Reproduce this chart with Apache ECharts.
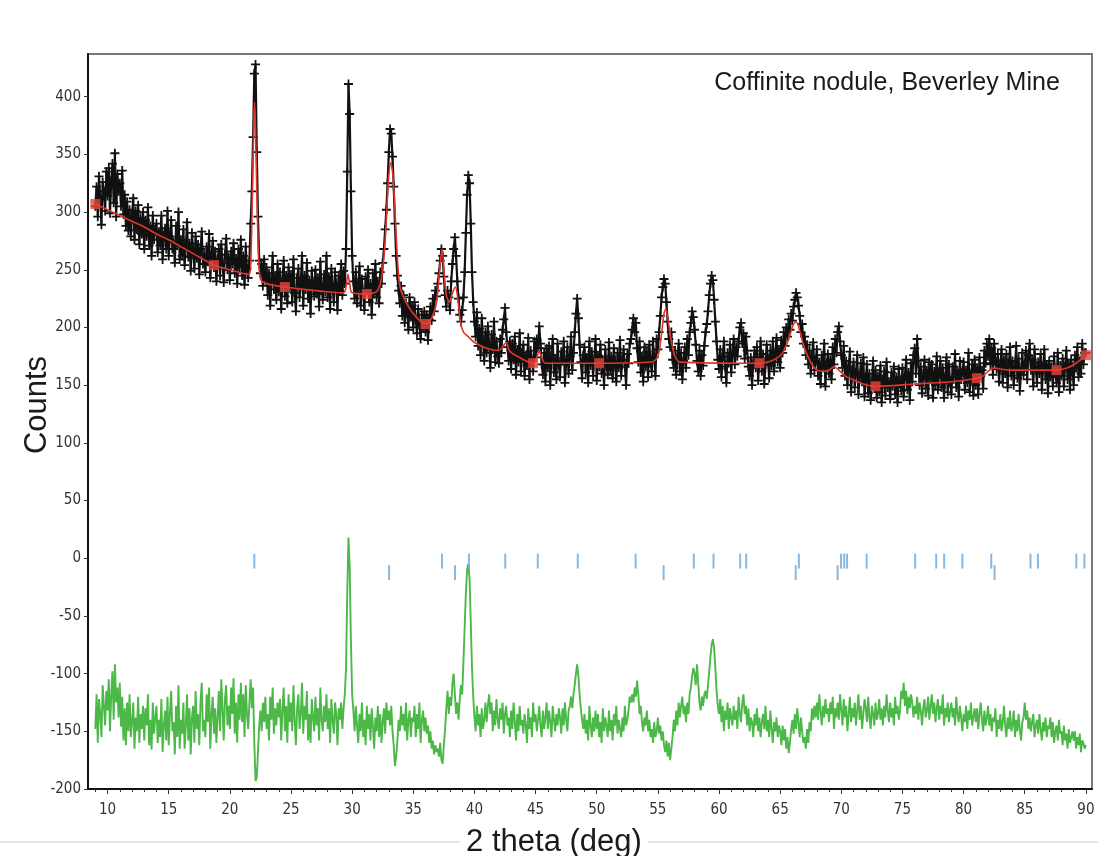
<!DOCTYPE html>
<html>
<head>
<meta charset="utf-8">
<script src="https://cdn.jsdelivr.net/npm/echarts@6/dist/echarts.min.js"></script>
<style>
html,body{margin:0;padding:0;background:#fff;}
#chart{width:1098px;height:856px;}
</style>
</head>
<body>
<div id="chart"></div>
<script>
// 2-theta sampling grid of the measured pattern
const THETA_START = 9.0;
const THETA_STEP = 0.1;

// Observed counts (black +), one row per degree (x.0 ... x.9)
const observedCounts = [
/*9*/ 305,322,296,331,312,289,326,318,301,335,
/*10*/ 314,338,299,327,342,308,351,296,333,318,
/*11*/ 325,305,336,298,315,288,309,284,302,279,
/*12*/ 297,312,276,301,285,306,272,295,281,300,
/*13*/ 268,293,279,304,271,288,262,297,276,284,
/*14*/ 290,265,283,271,297,259,280,286,268,301,
/*15*/ 262,279,293,268,274,256,288,271,300,259,
/*16*/ 276,262,285,254,270,291,261,273,249,282,
/*17*/ 266,251,279,260,272,246,268,283,255,263,
/*18*/ 248,270,257,281,243,262,275,252,266,240,
/*19*/ 259,268,245,272,256,239,263,277,250,261,
/*20*/ 241,266,255,273,247,260,238,268,252,276,
/*21*/ 245,262,237,270,251,243,258,290,318,365,
/*22*/ 420,428,352,296,258,247,255,236,259,241,
/*23*/ 252,228,247,219,241,262,233,245,224,255,
/*24*/ 231,248,216,240,258,227,245,221,252,234,
/*25*/ 246,222,259,230,214,243,251,226,238,262,
/*26*/ 219,245,233,256,225,241,212,249,236,227,
/*27*/ 250,229,243,218,257,234,224,246,231,262,
/*28*/ 226,244,216,251,235,222,248,238,215,245,
/*29*/ 232,255,228,249,238,268,335,411,385,318,
/*30*/ 262,240,225,248,221,236,253,219,242,230,
/*31*/ 215,244,232,250,222,238,211,247,229,255,
/*32*/ 226,240,221,248,238,256,268,285,302,325,
/*33*/ 352,372,368,348,322,290,262,245,232,221,
/*34*/ 236,210,228,204,221,215,198,226,209,219,
/*35*/ 200,222,207,195,216,203,190,211,199,214,
/*36*/ 196,211,189,207,218,206,225,214,232,227,
/*37*/ 238,247,258,268,262,244,228,218,232,226,
/*38*/ 215,240,255,268,278,262,240,225,211,205,
/*39*/ 215,226,248,282,315,332,325,290,248,222,
/*40*/ 205,192,213,184,199,176,208,189,171,196,
/*41*/ 178,201,186,165,194,181,205,170,188,175,
/*42*/ 169,190,178,198,207,217,196,183,171,188,
/*43*/ 164,186,172,192,159,181,170,195,162,178,
/*44*/ 185,158,176,167,191,155,180,171,162,188,
/*45*/ 174,190,182,201,186,168,159,178,153,182,
/*46*/ 165,184,150,176,190,161,173,155,186,168,
/*47*/ 157,179,171,188,152,169,183,160,175,192,
/*48*/ 163,178,196,212,225,208,185,170,156,176,
/*49*/ 183,161,174,152,188,167,179,158,171,190,
/*50*/ 154,176,166,185,160,172,150,181,168,159,
/*51*/ 187,163,175,156,182,170,153,178,165,189,
/*52*/ 158,172,181,166,150,177,169,186,190,198,
/*53*/ 208,196,204,182,170,188,161,175,153,183,
/*54*/ 166,179,157,185,170,162,188,174,158,190,
/*55*/ 181,196,210,226,235,242,238,222,205,190,
/*56*/ 183,196,172,165,180,159,174,186,162,178,
/*57*/ 155,171,183,165,190,176,196,204,214,209,
/*58*/ 198,185,171,162,180,158,176,167,184,196,
/*59*/ 203,214,228,238,245,241,224,205,188,172,
/*60*/ 164,181,157,175,188,166,152,178,170,185,
/*61*/ 161,178,190,168,183,175,188,200,204,186,
/*62*/ 195,173,192,180,166,158,174,150,169,180,
/*63*/ 165,183,154,171,188,162,177,151,168,185,
/*64*/ 173,156,180,167,188,162,176,191,170,181,
/*65*/ 165,189,178,196,184,200,192,207,198,212,
/*66*/ 206,218,224,230,226,219,210,196,203,186,
/*67*/ 192,176,185,168,180,160,175,187,163,171,
/*68*/ 181,158,170,151,176,165,186,149,168,177,
/*69*/ 160,172,155,183,168,190,178,196,201,188,
/*70*/ 176,165,184,158,171,150,166,179,144,162,
/*71*/ 170,148,161,176,142,158,169,153,174,140,
/*72*/ 156,168,143,160,137,152,171,147,163,139,
/*73*/ 158,144,167,135,155,162,141,170,148,153,
/*74*/ 138,161,149,166,142,157,135,164,151,145,
/*75*/ 165,140,158,172,146,161,137,169,153,176,
/*76*/ 182,160,190,171,150,166,143,158,172,147,
/*77*/ 163,141,170,155,168,139,162,150,175,146,
/*78*/ 160,171,148,165,139,157,174,144,168,152,
/*79*/ 142,166,157,177,148,163,140,171,155,161,
/*80*/ 170,146,163,152,178,144,159,168,141,172,
/*81*/ 150,165,142,174,158,163,147,180,169,186,
/*82*/ 175,190,168,182,159,186,171,164,177,153,
/*83*/ 166,181,152,172,160,177,148,169,183,158,
/*84*/ 171,150,166,184,156,173,145,162,178,159,
/*85*/ 168,180,155,176,186,163,172,149,181,165,
/*86*/ 152,170,160,177,146,165,181,155,168,143,
/*87*/ 171,157,166,149,175,160,152,178,144,167,
/*88*/ 158,173,149,166,180,155,169,146,172,162,
/*89*/ 150,176,165,183,157,171,160,186,168,178,
/*90*/ 178
];

// Difference curve (green), same grid
const differenceCounts = [
/*9*/ -148,-118,-160,-122,-135,-155,-110,-128,-145,-115,
/*10*/ -132,-105,-150,-118,-98,-140,-92,-125,-112,-138,
/*11*/ -108,-146,-120,-158,-130,-162,-125,-150,-118,-155,
/*12*/ -142,-125,-165,-138,-150,-120,-160,-135,-148,-128,
/*13*/ -158,-130,-145,-118,-162,-140,-166,-125,-152,-138,
/*14*/ -128,-160,-140,-155,-122,-168,-145,-132,-158,-120,
/*15*/ -162,-135,-115,-150,-142,-170,-128,-155,-110,-165,
/*16*/ -140,-152,-125,-165,-145,-118,-158,-130,-170,-138,
/*17*/ -128,-160,-115,-148,-135,-162,-125,-108,-150,-140,
/*18*/ -155,-118,-142,-112,-165,-135,-120,-152,-130,-160,
/*19*/ -138,-115,-150,-105,-130,-158,-122,-110,-145,-128,
/*20*/ -148,-112,-135,-104,-152,-125,-160,-118,-140,-108,
/*21*/ -142,-118,-155,-110,-135,-148,-125,-105,-130,-112,
/*22*/ -160,-193,-190,-168,-145,-132,-150,-125,-142,-120,
/*23*/ -148,-135,-158,-120,-140,-112,-152,-130,-145,-125,
/*24*/ -138,-122,-158,-132,-112,-150,-128,-160,-118,-142,
/*25*/ -125,-150,-110,-140,-162,-130,-118,-148,-135,-108,
/*26*/ -152,-128,-140,-115,-158,-135,-160,-122,-138,-150,
/*27*/ -120,-145,-130,-158,-112,-140,-150,-128,-142,-118,
/*28*/ -148,-130,-160,-122,-140,-152,-125,-135,-162,-130,
/*29*/ -140,-125,-148,-130,-118,-95,-30,18,-8,-72,
/*30*/ -118,-132,-150,-128,-145,-160,-135,-150,-125,-155,
/*31*/ -140,-162,-128,-148,-135,-158,-130,-145,-165,-138,
/*32*/ -150,-128,-155,-135,-160,-142,-130,-152,-125,-140,
/*33*/ -132,-145,-128,-150,-162,-180,-172,-158,-140,-150,
/*34*/ -128,-145,-135,-150,-125,-158,-140,-132,-155,-138,
/*35*/ -142,-128,-155,-135,-148,-125,-160,-140,-132,-150,
/*36*/ -138,-152,-145,-160,-150,-165,-158,-170,-162,-168,
/*37*/ -165,-172,-160,-175,-178,-162,-148,-130,-115,-135,
/*38*/ -120,-128,-108,-100,-118,-135,-125,-140,-122,-110,
/*39*/ -118,-90,-60,-30,-10,-5,-18,-55,-95,-120,
/*40*/ -138,-150,-128,-145,-135,-155,-130,-148,-140,-125,
/*41*/ -142,-128,-118,-135,-125,-150,-132,-145,-122,-140,
/*42*/ -148,-130,-140,-125,-152,-135,-128,-145,-138,-155,
/*43*/ -132,-148,-125,-142,-158,-135,-150,-128,-145,-140,
/*44*/ -152,-135,-145,-160,-130,-148,-138,-155,-125,-142,
/*45*/ -135,-150,-140,-128,-145,-155,-132,-148,-138,-125,
/*46*/ -148,-132,-142,-155,-128,-140,-150,-135,-145,-130,
/*47*/ -138,-152,-130,-145,-125,-140,-150,-132,-128,-120,
/*48*/ -130,-118,-110,-100,-92,-102,-118,-130,-140,-148,
/*49*/ -135,-152,-140,-158,-128,-145,-155,-138,-150,-132,
/*50*/ -148,-135,-155,-142,-160,-130,-150,-138,-145,-155,
/*51*/ -132,-150,-140,-158,-135,-145,-128,-152,-140,-148,
/*52*/ -155,-138,-150,-128,-145,-140,-132,-120,-125,-118,
/*53*/ -125,-112,-120,-106,-118,-135,-128,-142,-150,-138,
/*54*/ -145,-132,-150,-140,-155,-148,-160,-142,-155,-150,
/*55*/ -138,-152,-145,-158,-150,-162,-168,-158,-172,-160,
/*56*/ -175,-165,-155,-140,-150,-132,-145,-125,-138,-128,
/*57*/ -120,-135,-128,-142,-125,-135,-118,-112,-102,-95,
/*58*/ -100,-110,-92,-108,-125,-132,-120,-128,-118,-115,
/*59*/ -122,-110,-98,-85,-75,-70,-78,-95,-115,-128,
/*60*/ -135,-122,-142,-128,-150,-132,-140,-125,-148,-130,
/*61*/ -138,-145,-128,-140,-132,-148,-120,-135,-142,-125,
/*62*/ -118,-135,-128,-145,-130,-150,-138,-142,-155,-135,
/*63*/ -145,-130,-150,-138,-155,-142,-135,-148,-128,-150,
/*64*/ -140,-155,-132,-148,-160,-142,-150,-138,-155,-145,
/*65*/ -150,-162,-145,-158,-148,-165,-155,-169,-160,-148,
/*66*/ -140,-152,-135,-148,-130,-142,-155,-138,-150,-160,
/*67*/ -155,-165,-148,-160,-142,-150,-130,-140,-128,-138,
/*68*/ -125,-140,-118,-132,-145,-128,-138,-122,-135,-130,
/*69*/ -142,-125,-135,-120,-148,-130,-138,-125,-140,-118,
/*70*/ -132,-145,-122,-138,-128,-150,-135,-120,-142,-130,
/*71*/ -138,-125,-145,-132,-118,-140,-128,-148,-135,-122,
/*72*/ -130,-142,-120,-138,-148,-128,-135,-145,-125,-140,
/*73*/ -135,-122,-140,-130,-145,-128,-138,-118,-132,-142,
/*74*/ -125,-138,-130,-145,-120,-135,-128,-140,-132,-115,
/*75*/ -122,-108,-128,-115,-135,-120,-130,-118,-125,-138,
/*76*/ -128,-135,-120,-140,-125,-132,-145,-130,-122,-138,
/*77*/ -132,-120,-140,-128,-118,-135,-125,-142,-130,-122,
/*78*/ -140,-128,-135,-118,-145,-130,-138,-125,-142,-132,
/*79*/ -125,-138,-130,-145,-120,-135,-142,-128,-138,-150,
/*80*/ -135,-142,-128,-148,-132,-140,-125,-145,-138,-130,
/*81*/ -142,-130,-148,-135,-125,-140,-150,-132,-145,-138,
/*82*/ -128,-145,-135,-150,-138,-142,-130,-155,-140,-148,
/*83*/ -135,-150,-142,-128,-145,-155,-138,-148,-132,-150,
/*84*/ -145,-132,-155,-140,-150,-135,-148,-158,-142,-138,
/*85*/ -125,-140,-132,-148,-138,-150,-142,-135,-155,-145,
/*86*/ -140,-152,-135,-148,-158,-142,-150,-138,-155,-145,
/*87*/ -148,-138,-155,-142,-160,-150,-145,-158,-140,-152,
/*88*/ -150,-162,-145,-158,-152,-165,-148,-160,-155,-150,
/*89*/ -158,-150,-165,-155,-162,-152,-168,-158,-160,-165,
/*90*/ -162
];

// Calculated profile (red line)
const calcTheta = [9.0,10,11,12,13,14,15,16,17,18,18.7,20,21,21.6,21.75,21.85,21.95,22.02,22.1,22.2,22.3,22.4,22.55,23,24.5,26,28,29.3,29.5,29.65,29.8,30.0,31.2,32.0,32.3,32.5,32.7,32.85,33.0,33.15,33.3,33.45,33.6,33.75,33.9,34.2,35.0,36.0,36.5,36.9,37.15,37.35,37.5,37.7,37.95,38.2,38.45,38.65,38.85,39.1,39.5,40,41,42,42.35,42.6,42.85,43.5,44.8,45.1,45.3,45.5,45.8,50.2,54.5,55.0,55.25,55.5,55.65,55.85,56.1,56.4,56.8,63.3,64.5,65.2,65.7,66.05,66.3,66.6,66.9,67.3,67.8,68.4,69.0,69.4,69.8,70.3,70.9,71.8,72.8,76,79,81.1,81.6,82.0,82.5,83.0,84,87.6,88.5,89.2,90.0];
const calcCounts = [307,302,297,292,287,281,276,270,264,258,254,250,247,246,270,320,375,395,370,320,275,250,241,238,235,233,231,230,235,246,238,230,229,231,238,250,275,305,332,343,335,312,280,252,236,226,212,203,208,222,250,268,250,228,222,230,235,224,205,196,192,187,182,180,184,187,180,175,169,174,180,174,169,169,170,175,190,212,216,205,188,175,170,169,172,178,190,202,205,197,185,174,165,162,163,166,163,158,155,151,149,151,153,156,158,162,165,164,163,163,165,169,176];

// Background points (red squares)
const bgTheta = [9.0,18.7,24.5,31.2,36.0,44.8,50.2,63.3,72.8,81.1,87.6,90.0];
const bgCounts = [307,254,235,229,203,169,169,169,149,156,163,176];

// Reflection markers (blue ticks), two phases
const phaseATheta = [22.0,37.35,39.55,42.52,45.18,48.45,53.18,57.94,59.55,61.73,62.22,66.53,69.98,70.24,70.47,72.07,76.04,77.76,78.41,79.9,82.26,85.47,86.08,89.22,89.88];
const phaseBTheta = [33.02,38.41,55.47,66.27,69.7,82.53];

// Axis ticks
const xMajorTicks = [10,15,20,25,30,35,40,45,50,55,60,65,70,75,80,85,90];
const xMinorTicks = [9,11,12,13,14,16,17,18,19,21,22,23,24,26,27,28,29,31,32,33,34,36,37,38,39,41,42,43,44,46,47,48,49,51,52,53,54,56,57,58,59,61,62,63,64,66,67,68,69,71,72,73,74,76,77,78,79,81,82,83,84,86,87,88,89];
const yTicks = [-200,-150,-100,-50,0,50,100,150,200,250,300,350,400];

const TITLE = 'Coffinite nodule, Beverley Mine';
const X_NAME = '2 theta (deg)';
const Y_NAME = 'Counts';

const thetaAt = i => +(THETA_START + i * THETA_STEP).toFixed(2);
const obsData = observedCounts.map((v, i) => [thetaAt(i), v]);
const diffData = differenceCounts.map((v, i) => [thetaAt(i), v]);
const calcData = calcTheta.map((t, i) => [t, calcCounts[i]]);
const bgData = bgTheta.map((t, i) => [t, bgCounts[i]]);
const PHASE_A_Y = -2.5, PHASE_B_Y = -12.5;
const phaseAData = phaseATheta.map(t => [t, PHASE_A_Y]);
const phaseBData = phaseBTheta.map(t => [t, PHASE_B_Y]);

const labelFont = "'Liberation Sans Narrow','Arial Narrow','DejaVu Sans Condensed','Liberation Sans',sans-serif";
const PLUS = 'path://M4,0H6V4H10V6H6V10H4V6H0V4H4Z';

const chart = echarts.init(document.getElementById('chart'), null, {renderer: 'canvas'});
const X_MIN = 8.4, X_MAX = 90.5, Y_MIN = -200, Y_MAX = 437;

chart.setOption({
  animation: false,
  backgroundColor: '#fff',
  grid: {left: 88, right: 6, top: 54, bottom: 67, show: true, borderColor: '#777', borderWidth: 2, backgroundColor: 'transparent'},
  xAxis: [{
    type: 'value', min: X_MIN, max: X_MAX, position: 'bottom',
    axisLine: {show: true, onZero: false, lineStyle: {color: '#111', width: 2}},
    axisTick: {show: true, length: 5, customValues: xMajorTicks, lineStyle: {color: '#333'}},
    axisLabel: {customValues: xMajorTicks, margin: 14, fontSize: 15, color: '#333', fontFamily: labelFont},
    splitLine: {show: false}
  }, {
    type: 'value', min: X_MIN, max: X_MAX, position: 'bottom', gridIndex: 0,
    axisLine: {show: false, onZero: false},
    axisTick: {show: true, length: 3, customValues: xMinorTicks, lineStyle: {color: '#333'}},
    axisLabel: {show: false},
    splitLine: {show: false}
  }],
  yAxis: {
    type: 'value', min: Y_MIN, max: Y_MAX,
    axisLine: {show: true, onZero: false, lineStyle: {color: '#111', width: 2}},
    axisTick: {show: true, length: 4, customValues: yTicks, lineStyle: {color: '#333'}},
    axisLabel: {customValues: yTicks, margin: 7, fontSize: 15, color: '#333', fontFamily: labelFont},
    splitLine: {show: false}
  },
  graphic: [
    {type: 'line', shape: {x1: 0, y1: 842, x2: 1098, y2: 842}, style: {stroke: '#e6e6e6', lineWidth: 2}, z: 0},
    {type: 'text', x: 887, y: 83, style: {text: TITLE, fontSize: 25, fontFamily: "'Liberation Sans',Arial,sans-serif", fill: '#1a1a1a', textAlign: 'center', textVerticalAlign: 'middle'}},
    {type: 'text', x: 554, y: 842, style: {text: X_NAME, fontSize: 31, fontFamily: "'Liberation Sans',Arial,sans-serif", fill: '#1a1a1a', textAlign: 'center', textVerticalAlign: 'middle', backgroundColor: '#fff', padding: [0, 6]}},
    {type: 'text', x: 37, y: 405, rotation: Math.PI / 2, style: {text: Y_NAME, fontSize: 31, fontFamily: "'Liberation Sans',Arial,sans-serif", fill: '#1a1a1a', textAlign: 'center', textVerticalAlign: 'middle'}}
  ],
  series: [
    {type: 'line', name: 'difference', data: diffData, showSymbol: false, symbol: 'none', lineStyle: {color: '#4cb848', width: 1.9}, z: 2},
    {type: 'line', name: 'observed', data: obsData, showSymbol: true, showAllSymbol: true, symbol: PLUS, symbolSize: 9,
      itemStyle: {color: '#111', opacity: 1}, lineStyle: {color: '#111', width: 2.2}, z: 3},
    {type: 'line', name: 'calculated', data: calcData, showSymbol: false, symbol: 'none', smooth: 0.3, lineStyle: {color: '#e0342c', width: 1.6}, z: 4},
    {type: 'scatter', name: 'background', data: bgData, symbol: 'rect', symbolSize: 10, itemStyle: {color: '#e8433a'}, z: 5},
    {type: 'scatter', name: 'phase A', data: phaseAData, symbol: 'rect', symbolSize: [2, 15], itemStyle: {color: '#6ea6d6'}, z: 2},
    {type: 'scatter', name: 'phase B', data: phaseBData, symbol: 'rect', symbolSize: [2, 15], itemStyle: {color: '#6ea6d6'}, z: 2}
  ]
});
</script>
</body>
</html>
